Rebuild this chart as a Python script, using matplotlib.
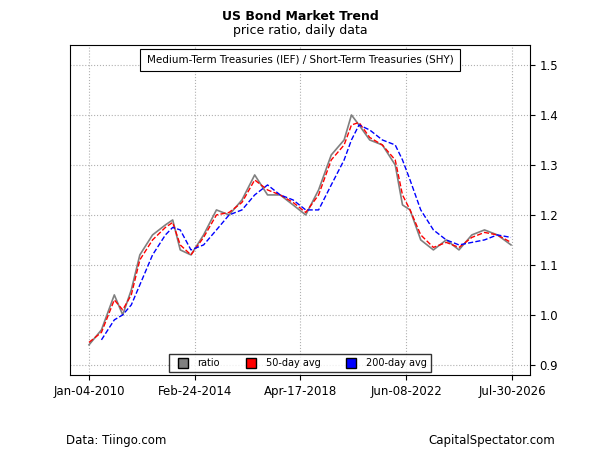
import matplotlib.pyplot as plt
import pandas as pd
from matplotlib.lines import Line2D

dates = pd.to_datetime([
    "2010-01-04", "2010-07-01", "2011-01-01", "2011-05-01", "2011-09-01", "2012-01-01",
    "2012-07-01", "2013-01-01", "2013-04-15", "2013-08-01", "2014-01-01", "2014-07-01",
    "2015-01-01", "2015-07-01", "2016-01-01", "2016-07-01", "2017-01-01", "2017-07-01",
    "2018-01-01", "2018-07-01", "2019-01-01", "2019-07-01", "2020-01-01", "2020-04-15",
    "2020-08-01", "2021-01-01", "2021-07-01", "2022-01-01", "2022-04-15", "2022-08-01",
    "2023-01-01", "2023-07-01", "2024-01-01", "2024-07-01", "2025-01-01", "2025-07-01",
    "2026-01-01", "2026-07-15"])
ratio = [0.94, 0.97, 1.04, 1.00, 1.05, 1.12, 1.16, 1.18, 1.19, 1.13, 1.12, 1.16,
         1.21, 1.20, 1.23, 1.28, 1.24, 1.24, 1.22, 1.20, 1.25, 1.32, 1.35, 1.40,
         1.38, 1.35, 1.34, 1.30, 1.22, 1.21, 1.15, 1.13, 1.15, 1.13, 1.16, 1.17,
         1.16, 1.14]
avg50 = [0.945, 0.965, 1.03, 1.01, 1.04, 1.11, 1.15, 1.175, 1.185, 1.14, 1.12, 1.155,
         1.20, 1.205, 1.225, 1.27, 1.25, 1.24, 1.225, 1.205, 1.24, 1.31, 1.34, 1.38,
         1.385, 1.355, 1.34, 1.31, 1.24, 1.21, 1.16, 1.135, 1.145, 1.135, 1.155, 1.165,
         1.16, 1.145]
avg200 = [None, 0.95, 0.99, 1.00, 1.02, 1.06, 1.12, 1.16, 1.175, 1.17, 1.13, 1.14,
          1.17, 1.20, 1.21, 1.24, 1.26, 1.24, 1.23, 1.21, 1.21, 1.26, 1.31, 1.35,
          1.38, 1.37, 1.35, 1.34, 1.31, 1.27, 1.21, 1.17, 1.15, 1.14, 1.145, 1.15,
          1.16, 1.155]
tick_dates = pd.to_datetime(["2010-01-04", "2014-02-24", "2018-04-17", "2022-06-08", "2026-07-30"])
tick_labels = ["Jan-04-2010", "Feb-24-2014", "Apr-17-2018", "Jun-08-2022", "Jul-30-2026"]

fig = plt.figure(figsize=(6, 4.5), dpi=100)
ax = fig.add_axes([0.117, 0.167, 0.766, 0.733])
ax.plot(dates, ratio, color="gray", lw=1.2)
ax.plot(dates, avg50, color="red", lw=1, ls="--")
s200 = pd.Series(avg200, index=dates, dtype=float)
ax.plot(s200.index, s200.values, color="blue", lw=1, ls="--")

ax.set_ylim(0.88, 1.54)
ax.set_xlim(pd.Timestamp("2009-04-10"), pd.Timestamp("2027-04-10"))
ax.yaxis.tick_right()
ax.set_yticks([0.9, 1.0, 1.1, 1.2, 1.3, 1.4, 1.5])
ax.set_xticks(tick_dates)
ax.set_xticklabels(tick_labels)
ax.tick_params(labelsize=8.5)
ax.grid(True, color="#b0b0b0", ls=":", lw=0.8)

fig.text(0.5, 0.955, "US Bond Market Trend", ha="center", fontsize=9, fontweight="bold")
fig.text(0.5, 0.925, "price ratio, daily data", ha="center", fontsize=9)
ax.text(0.5, 0.955, "Medium-Term Treasuries (IEF) / Short-Term Treasuries (SHY)",
        transform=ax.transAxes, ha="center", va="center", fontsize=7.5,
        bbox=dict(boxstyle="square,pad=0.6", fc="white", ec="black", lw=0.8))
handles = [Line2D([], [], marker="s", ls="", mfc=c, mec="black", ms=7)
           for c in ["gray", "red", "blue"]]
ax.legend(handles, ["ratio", "50-day avg", "200-day avg"], loc="lower center",
          ncol=3, fontsize=7, frameon=True, fancybox=False, edgecolor="black",
          columnspacing=2.2, handletextpad=0.5, borderaxespad=0.3)
fig.text(0.11, 0.013, "Data: Tiingo.com", fontsize=8.5)
fig.text(0.925, 0.013, "CapitalSpectator.com", fontsize=8.5, ha="right")
fig.savefig("out.png")
